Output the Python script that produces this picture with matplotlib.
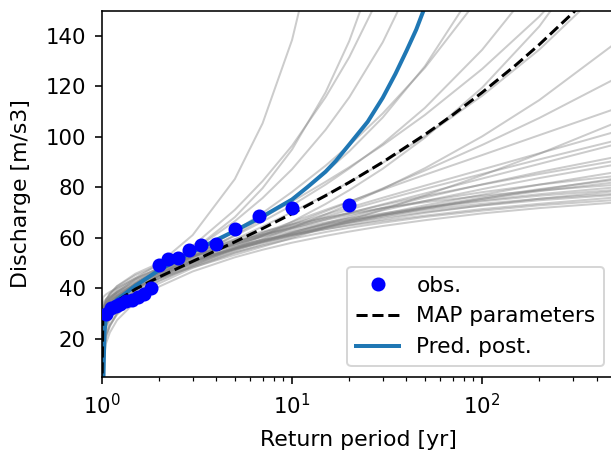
import matplotlib
matplotlib.use("Agg")
import matplotlib.pyplot as plt

# Observations (return period [yr], discharge [m/s3])
obs_T = [20, 10, 6.67, 5, 4, 3.33, 2.86, 2.5, 2.22, 2.0,
         1.82, 1.67, 1.54, 1.43, 1.33, 1.25, 1.18, 1.11, 1.05]
obs_Q = [73.2, 72.0, 68.5, 63.5, 57.5, 57.2, 55.2, 52.2, 51.8, 49.2,
         40.0, 37.8, 36.6, 35.4, 34.8, 33.8, 33.0, 32.3, 29.8]

# MAP parameter curve
map_T = [1.0, 1.01, 1.05, 1.1, 1.2, 1.5, 2, 3, 5, 7, 10, 15, 20, 30,
         50, 70, 100, 150, 200, 300, 500]
map_Q = [0, 27.2, 30.4, 32.4, 35.0, 39.7, 44.5, 50.7, 58.4, 63.7, 69.6,
         76.7, 82.0, 90.0, 100.9, 108.7, 117.6, 128.4, 136.6, 149.1, 166.4]

# Posterior predictive curve
pred_T = [1.015, 1.03, 1.05, 1.1, 1.2, 1.5, 2, 3, 5, 7, 10, 12, 15, 17,
          20, 25, 30, 35, 40, 45, 50, 55]
pred_Q = [0, 22.0, 29.5, 32.5, 35.5, 41.0, 47.3, 54.5, 62.8, 68.5, 75.2,
          80.0, 86.2, 90.5, 97.0, 106.0, 115.5, 125.0, 134.1, 142.5, 151.5, 158.0]

# Posterior sample curves (grey), shared return-period grid
gray_T = [1.0, 1.01, 1.05, 1.1, 1.2, 1.5, 2, 3, 5, 7, 10, 15, 20, 30,
          50, 100, 200, 500]
gray_Q = [
    [0, 36.4, 37.6, 38.6, 40.1, 44.0, 49.9, 61.1, 83.3, 105.4, 138.4, 193.4, 250, 250, 250, 250, 250, 250],
    [0, 34.1, 35.7, 36.8, 38.4, 42.1, 47.0, 55.0, 68.2, 79.7, 95.0, 117.6, 138.0, 174.5, 250, 250, 250, 250],
    [0, 27.6, 30.4, 32.4, 35.0, 40.5, 47.0, 56.8, 71.1, 82.5, 96.5, 115.7, 131.6, 158.5, 200.9, 250, 250, 250],
    [0, 31.3, 33.6, 35.1, 37.3, 41.7, 47.0, 54.9, 66.6, 75.8, 87.2, 102.8, 115.7, 137.5, 172.0, 234.8, 250, 250],
    [0, 32.0, 34.2, 35.7, 37.7, 41.6, 46.0, 52.3, 61.1, 67.7, 75.6, 86.0, 94.3, 107.7, 128.0, 162.9, 208.9, 250],
    [0, 26.1, 29.4, 31.5, 34.2, 39.4, 45.0, 52.7, 62.7, 69.9, 78.2, 88.6, 96.7, 109.3, 127.4, 156.7, 192.6, 253.3],
    [0, 32.1, 34.7, 36.3, 38.5, 42.5, 47.0, 52.9, 60.8, 66.5, 72.9, 81.1, 87.5, 97.3, 111.5, 134.5, 162.7, 210.3],
    [0, 28.1, 31.6, 33.8, 36.6, 41.7, 47.0, 53.8, 62.3, 68.0, 74.4, 82.2, 88.0, 96.7, 108.7, 126.9, 147.7, 180.2],
    [0, 31.2, 33.4, 34.8, 36.7, 40.2, 44.0, 49.1, 55.9, 60.8, 66.4, 73.4, 78.9, 87.4, 99.7, 119.5, 143.8, 184.9],
    [0, 29.4, 32.5, 34.4, 36.9, 41.4, 46.0, 52.0, 59.4, 64.5, 70.2, 77.0, 82.1, 89.7, 100.3, 116.3, 134.6, 163.1],
    [0, 32.0, 34.4, 35.9, 37.9, 41.4, 45.0, 49.7, 55.6, 59.6, 64.0, 69.3, 73.3, 79.4, 87.6, 100.2, 114.6, 137.0],
    [0, 28.1, 31.5, 33.6, 36.1, 40.6, 45.0, 50.4, 56.8, 61.0, 65.4, 70.5, 74.2, 79.6, 86.7, 96.8, 107.5, 123.0],
    [0, 23.6, 28.3, 31.0, 34.3, 39.8, 45.0, 51.1, 57.8, 62.0, 66.3, 71.1, 74.4, 79.1, 85.0, 92.8, 100.7, 111.1],
    [0, 30.6, 33.3, 35.0, 37.0, 40.5, 44.0, 48.3, 53.3, 56.5, 60.0, 64.1, 67.0, 71.2, 76.8, 84.8, 93.3, 105.5],
    [0, 30.5, 34.3, 36.5, 39.2, 43.7, 48.0, 52.9, 58.5, 61.9, 65.4, 69.3, 72.0, 75.9, 80.7, 87.1, 93.5, 102.0],
    [0, 25.5, 30.2, 32.8, 36.0, 41.2, 46.0, 51.5, 57.4, 60.9, 64.5, 68.4, 71.2, 74.9, 79.4, 85.3, 91.1, 98.5],
    [0, 32.1, 35.6, 37.6, 40.0, 44.1, 48.0, 52.5, 57.5, 60.6, 63.8, 67.3, 69.8, 73.3, 77.6, 83.5, 89.3, 97.0],
    [0, 27.9, 32.7, 35.3, 38.4, 43.5, 48.0, 53.0, 58.3, 61.4, 64.5, 67.8, 70.0, 73.0, 76.6, 81.1, 85.3, 90.5],
    [0, 24.3, 29.2, 31.9, 35.1, 40.3, 45.0, 50.2, 55.7, 58.9, 62.1, 65.5, 67.8, 70.9, 74.6, 79.3, 83.7, 89.0],
    [0, 22.0, 28.3, 31.7, 35.7, 41.8, 47.0, 52.6, 58.1, 61.2, 64.1, 67.1, 69.1, 71.7, 74.6, 78.1, 81.1, 84.5],
    [0, 29.8, 33.8, 36.1, 38.8, 43.1, 47.0, 51.3, 55.8, 58.5, 61.1, 64.0, 65.9, 68.4, 71.5, 75.4, 79.0, 83.5],
    [0, 18.6, 25.0, 28.5, 32.5, 38.7, 44.0, 49.6, 55.2, 58.3, 61.3, 64.4, 66.4, 69.0, 71.9, 75.5, 78.5, 82.0],
    [0, 17.5, 25.7, 30.0, 34.9, 42.1, 48.0, 54.0, 59.5, 62.5, 65.3, 68.0, 69.7, 71.8, 74.1, 76.7, 78.8, 81.0],
    [0, 24.3, 29.8, 32.7, 36.1, 41.4, 46.0, 50.8, 55.5, 58.2, 60.8, 63.4, 65.1, 67.3, 69.9, 72.9, 75.5, 78.5],
    [0, 15.4, 23.4, 27.5, 32.2, 39.3, 45.0, 50.8, 56.2, 59.0, 61.7, 64.3, 66.0, 68.0, 70.3, 72.8, 74.9, 77.0],
    [0, 30.9, 35.5, 37.9, 40.8, 45.2, 49.0, 53.0, 56.9, 59.2, 61.3, 63.5, 64.9, 66.7, 68.8, 71.4, 73.5, 76.0],
    [0, 13.4, 21.4, 25.5, 30.2, 37.3, 43.0, 48.8, 54.2, 57.0, 59.7, 62.3, 64.0, 66.0, 68.3, 70.8, 72.9, 75.0],
    [0, 9.8, 18.2, 22.5, 27.4, 34.7, 40.7, 46.7, 52.3, 55.3, 58.1, 60.8, 62.5, 64.7, 67.0, 69.7, 71.8, 74.0],
    [0, 30.0, 35.0, 37.8, 40.9, 45.8, 50.0, 54.4, 58.8, 61.3, 63.7, 66.1, 67.7, 69.7, 72.1, 74.9, 77.3, 80.0],
    [0, 27.1, 31.6, 34.0, 37.0, 41.7, 46.0, 50.7, 55.7, 58.6, 61.5, 64.6, 66.7, 69.5, 72.9, 77.1, 81.1, 86.0],
    [0, 19.9, 25.4, 28.4, 32.0, 37.8, 43.0, 48.8, 54.9, 58.5, 62.0, 65.8, 68.4, 71.9, 76.0, 81.2, 86.1, 92.0],
    [0, 18.7, 26.4, 30.4, 34.8, 41.5, 47.0, 52.5, 57.6, 60.4, 62.9, 65.4, 67.0, 68.9, 71.1, 73.5, 75.5, 77.5],
    [0, 11.6, 20.4, 24.9, 30.1, 37.8, 44.0, 50.3, 56.2, 59.4, 62.3, 65.2, 67.0, 69.2, 71.7, 74.5, 76.7, 79.0],
    [0, 14.6, 21.5, 25.3, 29.6, 36.3, 42.0, 48.1, 54.1, 57.5, 60.7, 64.0, 66.2, 69.0, 72.2, 76.0, 79.3, 83.0],
]

fig = plt.figure(figsize=(611 / 144, 452 / 144), dpi=144)
ax = fig.add_axes([0.1669, 0.1666, 0.8396, 0.8097])

for q in gray_Q:
    ax.plot(gray_T, q, color="gray", alpha=0.4, lw=1.0)

ax.plot(obs_T, obs_Q, "o", color="blue", label="obs.", zorder=4)
ax.plot(map_T, map_Q, "k--", lw=1.5, label="MAP parameters", zorder=3)
ax.plot(pred_T, pred_Q, color="tab:blue", lw=2.0, label="Pred. post.", zorder=2.5)

ax.set_xscale("log")
ax.set_xlim(1, 500)
ax.set_ylim(5, 150)
ax.tick_params(which="major", labelsize=10.6, pad=4.5)
ax.set_xlabel("Return period [yr]", fontsize=11, labelpad=6)
ax.set_ylabel("Discharge [m/s3]", fontsize=11, labelpad=7)
ax.legend(loc="lower right", fontsize=10.8)

fig.savefig("out.png", dpi=144)
